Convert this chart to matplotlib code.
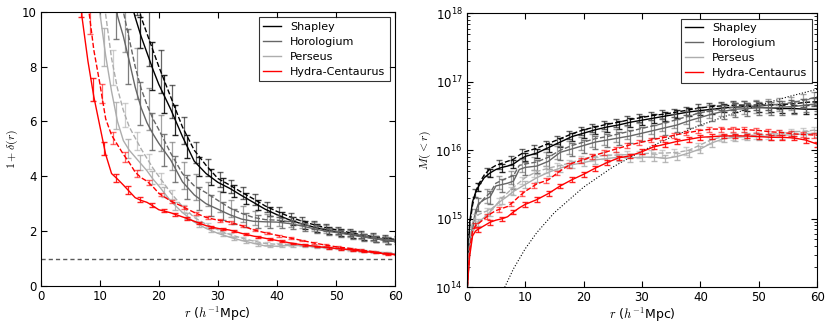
import numpy as np
import matplotlib
matplotlib.use("Agg")
import matplotlib.pyplot as plt

# -------- data --------
clusters = ["Shapley", "Horologium", "Perseus", "Hydra-Centaurus"]
colors = ["black", "0.4", "0.68", "red"]

# left panel: 1 + delta(r)
r_d = [5, 6, 7, 8, 9, 10, 11, 12, 13, 14, 15, 16, 17, 18, 19, 20,
       22, 24, 26, 28, 30, 32, 34, 36, 38, 40, 42, 44, 46, 48, 50, 52, 54, 56, 58, 60]
delta_shapley = [40, 36, 32, 28, 25, 22, 19.5, 17, 15, 12.5, 10.6, 9.8, 9.1, 8.5, 7.9, 7.35,
                 6.45, 5.45, 4.55, 4.1, 3.78, 3.56, 3.3, 3.05, 2.8, 2.6, 2.42, 2.28, 2.16, 2.06,
                 1.98, 1.9, 1.82, 1.75, 1.68, 1.62]
delta_shapley_d = [44, 40, 36, 32, 28, 25, 22, 19, 16.5, 14.5, 12.5, 10.8, 9.8, 9.2, 8.6, 8.0,
                   6.9, 5.8, 4.95, 4.4, 3.92, 3.68, 3.42, 3.18, 2.92, 2.72, 2.54, 2.38, 2.25, 2.14,
                   2.05, 1.96, 1.88, 1.81, 1.75, 1.7]
delta_horologium = [40, 34, 28, 24, 20, 17, 14, 11.8, 9.85, 9.1, 8.2, 7.25, 6.5, 5.95, 5.55, 5.2,
                    4.6, 3.8, 3.32, 3.0, 2.8, 2.6, 2.44, 2.36, 2.34, 2.33, 2.28, 2.2, 2.1, 2.01,
                    1.95, 1.88, 1.81, 1.74, 1.68, 1.62]
delta_horologium_d = [45, 38, 32, 27, 23, 19.5, 16, 13, 11.3, 10, 9.0, 8.0, 7.2, 6.6, 6.1, 5.7,
                      4.85, 4.1, 3.65, 3.4, 3.12, 2.85, 2.65, 2.5, 2.42, 2.4, 2.35, 2.27, 2.18, 2.09,
                      2.0, 1.93, 1.86, 1.79, 1.72, 1.66]
delta_perseus = [35, 28, 22, 17, 13, 10.0, 8.4, 7.1, 6.0, 5.3, 4.95, 4.7, 4.45, 4.2, 3.9, 3.65,
                 3.1, 2.68, 2.33, 2.1, 1.92, 1.78, 1.66, 1.56, 1.46, 1.45, 1.48, 1.47, 1.43, 1.39,
                 1.36, 1.32, 1.28, 1.24, 1.2, 1.17]
delta_perseus_d = [40, 32, 25, 19, 15, 12, 9.9, 8.3, 7.2, 6.4, 5.8, 5.4, 5.0, 4.65, 4.3, 4.0,
                   3.4, 2.9, 2.5, 2.25, 2.05, 1.88, 1.75, 1.64, 1.55, 1.52, 1.52, 1.5, 1.46, 1.42,
                   1.38, 1.34, 1.3, 1.26, 1.22, 1.19]
delta_hydra = [18, 13, 9.8, 8.2, 6.9, 5.85, 4.8, 4.1, 3.9, 3.68, 3.45, 3.22, 3.12, 3.05, 2.92, 2.78,
               2.67, 2.52, 2.36, 2.2, 2.1, 2.04, 1.92, 1.82, 1.74, 1.66, 1.58, 1.51, 1.46, 1.41,
               1.37, 1.33, 1.28, 1.23, 1.18, 1.14]
delta_hydra_d = [22, 17, 13, 10.3, 8.6, 7.4, 6.1, 5.5, 5.15, 4.8, 4.5, 4.15, 3.95, 3.82, 3.62, 3.38,
                 3.1, 2.9, 2.68, 2.5, 2.4, 2.33, 2.2, 2.05, 1.94, 1.85, 1.76, 1.67, 1.58, 1.5,
                 1.43, 1.38, 1.32, 1.26, 1.2, 1.15]

# relative errors at r = 6, 8, ..., 60
r_err = [6, 8, 10, 12, 14, 16, 18, 20, 22, 24, 26, 28, 30, 32, 34, 36, 38, 40,
         42, 44, 46, 48, 50, 52, 54, 56, 58, 60]
relerr_shapley = [0.06, 0.06, 0.06, 0.06, 0.06, 0.06, 0.11, 0.10, 0.09, 0.085, 0.08, 0.07, 0.07,
                  0.065, 0.065, 0.065, 0.065, 0.065, 0.065, 0.065, 0.065, 0.065, 0.065, 0.065,
                  0.065, 0.065, 0.065, 0.065]
relerr_horologium = [0.12, 0.12, 0.12, 0.12, 0.12, 0.12, 0.12, 0.12, 0.11, 0.12, 0.13, 0.13, 0.12,
                     0.11, 0.11, 0.10, 0.09, 0.08, 0.075, 0.07, 0.07, 0.07, 0.07, 0.07, 0.07,
                     0.07, 0.07, 0.07]
relerr_perseus = [0.08, 0.08, 0.08, 0.08, 0.07, 0.06, 0.06, 0.05, 0.05, 0.045, 0.04, 0.035, 0.03,
                  0.03, 0.03, 0.03, 0.03, 0.03, 0.03, 0.03, 0.03, 0.03, 0.03, 0.03, 0.03, 0.03,
                  0.03, 0.03]
relerr_hydra = [0.06, 0.06, 0.05, 0.04, 0.04, 0.03, 0.025, 0.02, 0.02, 0.02, 0.02, 0.02, 0.02,
                0.02, 0.02, 0.02, 0.02, 0.02, 0.02, 0.02, 0.02, 0.02, 0.02, 0.02, 0.02, 0.02,
                0.02, 0.02]

# right panel: log10 M(<r)
r_m = [0.1, 0.5, 1, 1.5, 2, 3, 4, 5, 6, 7, 8, 9, 10, 12, 14, 16, 18, 20, 22, 24, 26, 28,
       30, 32, 34, 36, 38, 40, 42, 44, 46, 48, 50, 52, 54, 56, 58, 60]
logm_shapley = [14.0, 14.95, 15.25, 15.38, 15.47, 15.6, 15.67, 15.72, 15.75, 15.77, 15.8, 15.86,
                15.91, 15.96, 16.04, 16.12, 16.2, 16.25, 16.3, 16.34, 16.37, 16.41, 16.44, 16.47,
                16.5, 16.53, 16.56, 16.58, 16.6, 16.62, 16.63, 16.64, 16.63, 16.62, 16.61, 16.61,
                16.6, 16.6]
logm_shapley_d = [14.0, 14.9, 15.2, 15.38, 15.5, 15.64, 15.73, 15.78, 15.81, 15.84, 15.87, 15.93,
                  15.98, 16.03, 16.1, 16.17, 16.24, 16.3, 16.34, 16.38, 16.41, 16.45, 16.48, 16.51,
                  16.53, 16.56, 16.59, 16.62, 16.64, 16.65, 16.66, 16.66, 16.66, 16.66, 16.67,
                  16.68, 16.7, 16.71]
logm_horologium = [14.0, 14.6, 14.9, 15.1, 15.22, 15.28, 15.32, 15.48, 15.5, 15.52, 15.55, 15.72,
                   15.75, 15.77, 15.84, 15.97, 16.02, 16.07, 16.12, 16.15, 16.18, 16.21, 16.25,
                   16.29, 16.33, 16.37, 16.43, 16.48, 16.53, 16.57, 16.6, 16.61, 16.62, 16.62,
                   16.63, 16.64, 16.66, 16.68]
logm_horologium_d = [14.0, 14.55, 14.85, 15.05, 15.2, 15.3, 15.38, 15.52, 15.56, 15.6, 15.63, 15.78,
                     15.8, 15.83, 15.9, 16.0, 16.07, 16.12, 16.17, 16.2, 16.24, 16.28, 16.32,
                     16.36, 16.4, 16.45, 16.5, 16.55, 16.58, 16.61, 16.63, 16.64, 16.65, 16.66,
                     16.68, 16.7, 16.74, 16.78]
logm_perseus = [14.0, 14.5, 14.8, 14.9, 14.95, 15.02, 15.1, 15.2, 15.27, 15.33, 15.4, 15.45,
                15.5, 15.6, 15.68, 15.74, 15.79, 15.82, 15.86, 15.88, 15.9, 15.89, 15.9, 15.9,
                15.88, 15.91, 15.96, 16.02, 16.11, 16.17, 16.19, 16.2, 16.2, 16.21, 16.22, 16.23,
                16.24, 16.25]
logm_perseus_d = [14.0, 14.7, 14.95, 15.02, 15.06, 15.1, 15.13, 15.2, 15.3, 15.38, 15.46, 15.53,
                  15.6, 15.69, 15.74, 15.78, 15.82, 15.88, 15.91, 15.93, 15.93, 15.94, 15.95,
                  15.96, 15.96, 15.97, 16.0, 16.08, 16.16, 16.2, 16.21, 16.22, 16.22, 16.23,
                  16.25, 16.27, 16.28, 16.3]
logm_hydra = [14.0, 14.45, 14.75, 14.82, 14.85, 14.9, 14.95, 14.98, 15.0, 15.03, 15.1, 15.16,
              15.21, 15.28, 15.37, 15.48, 15.57, 15.65, 15.74, 15.82, 15.89, 15.92, 15.98, 16.05,
              16.09, 16.13, 16.16, 16.19, 16.2, 16.21, 16.21, 16.21, 16.2, 16.19, 16.19, 16.18,
              16.15, 16.09]
logm_hydra_d = [14.0, 14.55, 14.82, 14.9, 14.93, 15.0, 15.07, 15.12, 15.15, 15.18, 15.25, 15.33,
                15.4, 15.51, 15.57, 15.7, 15.81, 15.86, 15.93, 15.98, 16.03, 16.08, 16.12, 16.16,
                16.19, 16.23, 16.26, 16.29, 16.31, 16.31, 16.31, 16.3, 16.29, 16.27, 16.26, 16.24,
                16.23, 16.22]
mass_relerr = [0.14, 0.22, 0.12, 0.08]

# mean-density reference curve (dotted)
r_mean = [6.5, 8, 10, 12, 15, 20, 25, 30, 35, 40, 45, 50, 55, 60]
m_mean = [1.0e14, 1.86e14, 3.64e14, 6.3e14, 1.23e15, 2.9e15, 5.7e15, 9.8e15,
          1.56e16, 2.33e16, 3.3e16, 4.55e16, 6.05e16, 7.8e16]

delta_solid = [delta_shapley, delta_horologium, delta_perseus, delta_hydra]
delta_dash = [delta_shapley_d, delta_horologium_d, delta_perseus_d, delta_hydra_d]
delta_relerr = [relerr_shapley, relerr_horologium, relerr_perseus, relerr_hydra]
logm_solid = [logm_shapley, logm_horologium, logm_perseus, logm_hydra]
logm_dash = [logm_shapley_d, logm_horologium_d, logm_perseus_d, logm_hydra_d]

# -------- style --------
plt.rcParams.update({
    "font.family": "DejaVu Sans",
    "font.size": 8.5,
    "mathtext.fontset": "cm",
    "xtick.direction": "in",
    "ytick.direction": "in",
    "xtick.top": True,
    "ytick.right": True,
    "xtick.major.size": 4,
    "ytick.major.size": 4,
    "xtick.minor.size": 2,
    "ytick.minor.size": 2,
    "xtick.major.pad": 3,
    "ytick.major.pad": 3,
    "axes.linewidth": 0.8,
})

fig = plt.figure(figsize=(8.3, 3.25), dpi=100)
ax1 = fig.add_axes([0.049, 0.12, 0.427, 0.844])
ax2 = fig.add_axes([0.5623, 0.116, 0.4224, 0.843])

rd = np.array(r_d, float)
rm = np.array(r_m, float)
re = np.array(r_err, float)
sel_m = (rm % 2 == 0) & (rm >= 2)
EB = dict(fmt="none", elinewidth=0.9, capsize=2)

# -------- left: overdensity --------
ax1.axhline(1.0, color="0.35", ls=(0, (3, 2.2)), lw=1)
for name, col, ys, yd, fe in zip(clusters, colors, delta_solid, delta_dash, delta_relerr):
    ys = np.array(ys, float)
    yd = np.array(yd, float)
    fe = np.array(fe, float)
    ax1.plot(rd, ys, color=col, lw=1, label=name)
    ax1.plot(rd, yd, color=col, lw=1, ls="--")
    vs = np.interp(re + 0.8, rd, ys)
    vd = np.interp(re + 0.3, rd, yd)
    ax1.errorbar(re + 0.8, vs, yerr=fe * vs, ecolor=col, alpha=0.85, **EB)
    ax1.errorbar(re + 0.3, vd, yerr=fe * vd, ecolor=col, alpha=0.6, **EB)
ax1.set_xlim(0, 60)
ax1.set_ylim(0, 10)
ax1.set_xlabel(r"$r$ ($h^{-1}$Mpc)", fontsize=9, labelpad=1)
ax1.set_ylabel(r"$1+\delta(r)$", fontsize=8.5, labelpad=1.5)
leg1 = ax1.legend(loc="upper right", fancybox=False, edgecolor="black",
                  fontsize=8, handlelength=1.6, borderaxespad=0.5, labelspacing=0.45)
leg1.get_frame().set_linewidth(0.8)

# -------- right: enclosed mass --------
ax2.plot(r_mean, m_mean, color="black", ls=":", lw=0.8)
for name, col, ls_, ld, fe in zip(clusters, colors, logm_solid, logm_dash, mass_relerr):
    ms = 10 ** np.array(ls_, float)
    md = 10 ** np.array(ld, float)
    ax2.plot(rm, ms, color=col, lw=1, label=name)
    ax2.plot(rm, md, color=col, lw=1, ls="--")
    ax2.errorbar(rm[sel_m], ms[sel_m], yerr=fe * ms[sel_m], ecolor=col, alpha=0.85, **EB)
    ax2.errorbar(rm[sel_m] - 0.5, np.interp(rm[sel_m] - 0.5, rm, md),
                 yerr=fe * np.interp(rm[sel_m] - 0.5, rm, md), ecolor=col, alpha=0.6, **EB)
ax2.set_yscale("log")
ax2.set_xlim(0, 60)
ax2.set_ylim(1e14, 1e18)
ax2.set_xlabel(r"$r$ ($h^{-1}$Mpc)", fontsize=9, labelpad=1)
ax2.set_ylabel(r"$M(<r)$", fontsize=8.5, labelpad=2)
leg2 = ax2.legend(loc="upper right", fancybox=False, edgecolor="black",
                  fontsize=8, handlelength=1.6, borderaxespad=0.5, labelspacing=0.45)
leg2.get_frame().set_linewidth(0.8)

fig.savefig("out.png", dpi=100, facecolor="white")
